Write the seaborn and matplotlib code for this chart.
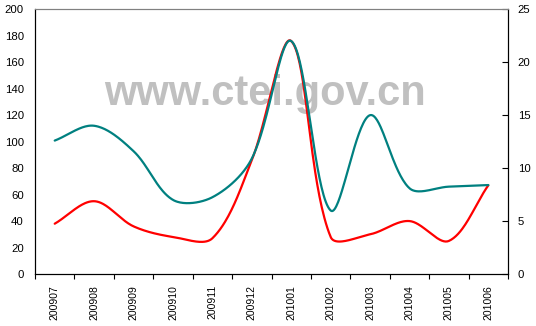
import numpy as np
import matplotlib
matplotlib.use("Agg")
import matplotlib.pyplot as plt
import seaborn as sns

# data
months = ["200907", "200908", "200909", "200910", "200911", "200912",
          "201001", "201002", "201003", "201004", "201005", "201006"]
red_vals = [38, 55, 36, 28, 27, 86, 176, 28, 30, 40, 25, 67]              # left axis
teal_vals = [12.6, 14.0, 11.6, 7.0, 7.25, 10.9, 22.0, 6.0, 15.0, 8.1, 8.25, 8.4]  # right axis


def smooth(vals, sx, sy, n=40):
    # Excel-like smoothed line: cubic bezier, tangents scaled by chord lengths
    P = np.column_stack([np.arange(len(vals)) * sx, np.asarray(vals, float) * sy])
    xs, ys = [], []
    for i in range(len(P) - 1):
        a, b = P[i], P[i + 1]
        p0 = P[i - 1] if i > 0 else a
        p3 = P[i + 2] if i + 2 < len(P) else b
        lb, lf = np.linalg.norm(a - p0), np.linalg.norm(b - a)
        c1 = a + (b - p0) * lf / (lb + lf) / 3
        l2 = np.linalg.norm(p3 - b)
        c2 = b - (p3 - a) * lf / (lf + l2) / 3
        t = np.linspace(0, 1, n)[:, None]
        pts = ((1 - t) ** 3) * a + 3 * ((1 - t) ** 2) * t * c1 + 3 * (1 - t) * t ** 2 * c2 + t ** 3 * b
        xs.extend(pts[:, 0] / sx)
        ys.extend(pts[:, 1] / sy)
    return np.array(xs), np.array(ys)


sns.set_style("white")
plt.rcParams["font.family"] = ["Liberation Sans", "DejaVu Sans"]

fig = plt.figure(figsize=(5.36, 3.26), dpi=100)
ax = fig.add_axes([0.0653, 0.1595, 0.8825, 0.812])
ax2 = ax.twinx()

sx = 39.4
rx, ry = smooth(red_vals, sx, 1.325)
tx, ty = smooth(teal_vals, sx, 10.6)

sns.lineplot(x=rx, y=ry, ax=ax, color="#FF0000", linewidth=1.6, sort=False,
             estimator=None, zorder=3)
sns.lineplot(x=tx, y=ty, ax=ax2, color="#008080", linewidth=1.6, sort=False,
             estimator=None, zorder=3)

ax.text(0.4935, 0.678, "www.ctei.gov.cn", transform=fig.transFigure,
        fontsize=30, fontweight="bold", color="#C0C0C0",
        ha="center", va="baseline", zorder=0.5)

ax.set_xlim(-0.5, 11.5)
ax.set_ylim(0, 200)
ax2.set_ylim(0, 25)
ax.set_yticks(range(0, 201, 20))
ax2.set_yticks(range(0, 26, 5))

ax.set_xticks(np.arange(-0.5, 12, 1))
ax.set_xticklabels([])
ax.set_xticks(range(12), minor=True)
ax.set_xticklabels(months, minor=True, rotation=90)

ax.tick_params(axis="x", which="major", direction="out", length=3.5, width=0.8,
               color="black", bottom=True)
ax.tick_params(axis="x", which="minor", length=0, pad=8, labelsize=7.5,
               labelcolor="black")
ax.tick_params(axis="y", length=0, pad=8, labelsize=8.2, labelcolor="black")
ax2.tick_params(axis="y", direction="in", length=4, width=0.8, color="black",
                pad=7, labelsize=8.2, labelcolor="black", right=True)

for a in (ax, ax2):
    for s in a.spines.values():
        s.set_linewidth(0.8)
        s.set_color("black")
    a.spines["top"].set_color("#808080")
    a.set_xlabel("")
    a.set_ylabel("")
    a.grid(False)

fig.savefig("out.png", dpi=100)
